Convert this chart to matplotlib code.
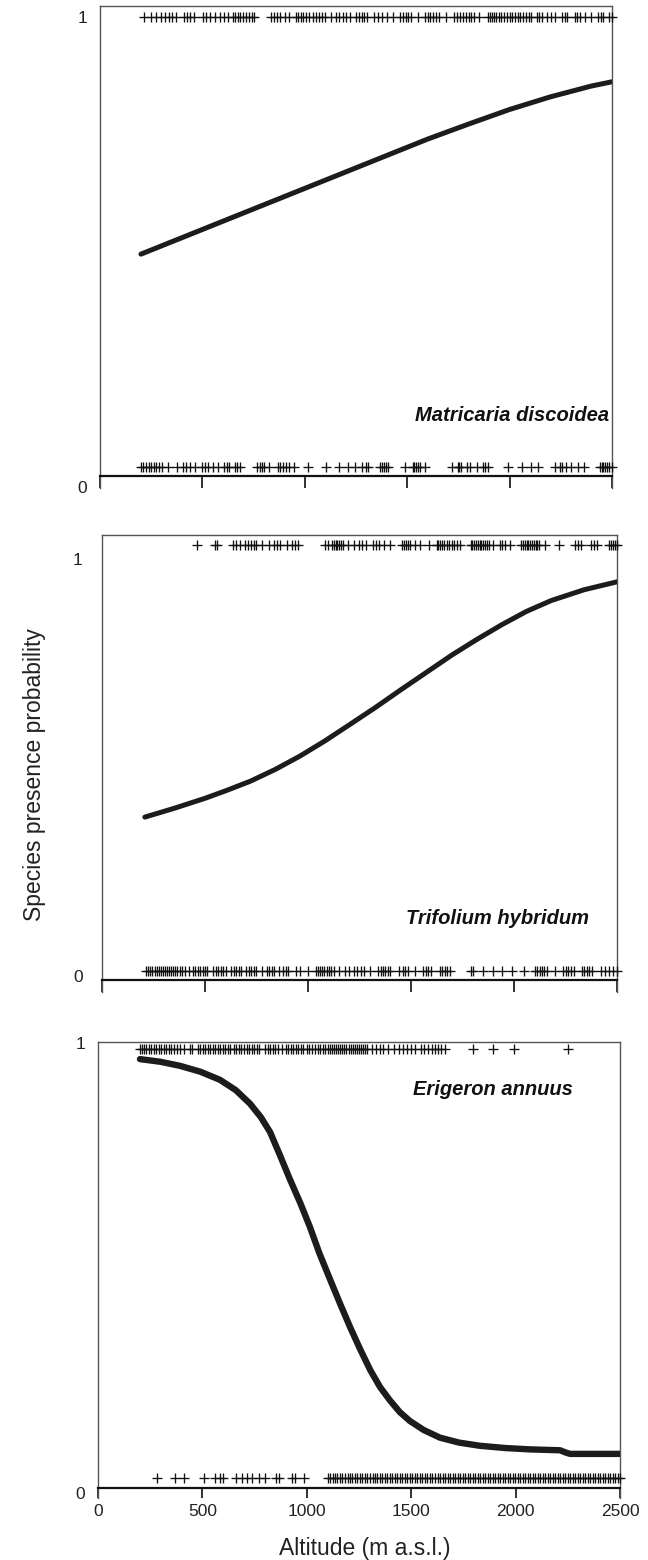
import matplotlib
matplotlib.use("Agg")
import matplotlib.pyplot as plt

plt.rcParams['font.family'] = ['Liberation Sans', 'DejaVu Sans']

# ---------------- data ----------------
x_ticks = [0, 500, 1000, 1500, 2000, 2500]
x_tick_labels = ["0", "500", "1000", "1500", "2000", "2500"]
y_ticks = [0, 1]
y_tick_labels = ["0", "1"]

species = ["Matricaria discoidea", "Trifolium hybridum", "Erigeron annuus"]

# fitted presence probability curves
M_alt = [200, 400, 600, 800, 1000, 1200, 1400, 1600, 1800, 2000, 2200, 2400, 2500]
M_prob = [0.495, 0.53, 0.565, 0.60, 0.635, 0.67, 0.705, 0.74, 0.772, 0.803, 0.830, 0.853, 0.862]

T_alt = [208, 350, 500, 600, 720, 840, 960, 1080, 1200, 1325, 1450, 1575, 1700, 1820, 1940, 2060, 2180,
         2340, 2500]
T_prob = [0.381, 0.402, 0.426, 0.444, 0.467, 0.495, 0.527, 0.563, 0.602, 0.643, 0.686, 0.728, 0.770, 0.807,
          0.842, 0.874, 0.900, 0.926, 0.945]

E_alt = [201, 300, 393, 490, 584, 660, 728, 780, 824, 870, 920, 970, 1015, 1060, 1111, 1160, 1207, 1255,
         1303, 1350, 1398, 1445, 1494, 1560, 1638, 1730, 1829, 1950, 2069, 2213, 2240, 2261, 2500]
E_prob = [0.964, 0.958, 0.949, 0.936, 0.918, 0.895, 0.865, 0.835, 0.802, 0.752, 0.696, 0.643, 0.591, 0.533,
          0.475, 0.420, 0.369, 0.320, 0.274, 0.236, 0.206, 0.180, 0.160, 0.140, 0.123, 0.112, 0.105, 0.100,
          0.097, 0.095, 0.090, 0.087, 0.087]

# observed presences / absences (altitude of each record)
M_pres = [215, 250, 275, 300, 318, 335, 352, 372, 410, 425, 440, 458, 505, 520, 535, 560, 585, 605, 625, 648,
          660, 672, 685, 698, 712, 726, 740, 752, 835, 848, 862, 880, 903, 922, 955, 968, 980, 993, 1006, 1020,
          1040, 1055, 1070, 1085, 1100, 1130, 1150, 1168, 1185, 1200, 1220, 1252, 1265, 1278, 1290, 1305, 1340,
          1358, 1375, 1400, 1430, 1465, 1478, 1492, 1505, 1520, 1555, 1588, 1600, 1612, 1625, 1640, 1655, 1690,
          1728, 1745, 1757, 1772, 1785, 1800, 1812, 1825, 1850, 1895, 1905, 1915, 1925, 1935, 1948, 1960, 1972,
          1985, 2000, 2012, 2025, 2040, 2053, 2065, 2080, 2095, 2106, 2132, 2145, 2160, 2185, 2200, 2220, 2255,
          2270, 2282, 2318, 2330, 2343, 2370, 2396, 2432, 2445, 2458, 2484, 2500]
M_abs = [200, 212, 225, 238, 250, 262, 275, 290, 305, 332, 378, 403, 420, 438, 464, 498, 512, 526, 552, 578,
         605, 618, 631, 657, 670, 684, 765, 780, 790, 800, 825, 868, 880, 894, 907, 921, 947, 1017, 1105, 1166,
         1210, 1245, 1281, 1300, 1310, 1368, 1377, 1386, 1395, 1404, 1491, 1526, 1535, 1544, 1552, 1561, 1588,
         1720, 1746, 1755, 1764, 1790, 1807, 1843, 1869, 1878, 1895, 1992, 2062, 2106, 2141, 2220, 2247, 2256,
         2273, 2299, 2334, 2361, 2440, 2450, 2458, 2466, 2475, 2483, 2500]

T_pres = [460, 548, 558, 635, 650, 670, 696, 710, 722, 736, 749, 775, 810, 836, 850, 862, 897, 924, 937, 950,
          1081, 1099, 1116, 1125, 1134, 1143, 1151, 1160, 1169, 1195, 1221, 1247, 1260, 1282, 1317, 1330, 1344,
          1370, 1396, 1458, 1467, 1475, 1484, 1493, 1519, 1545, 1589, 1624, 1633, 1641, 1650, 1662, 1673, 1685,
          1697, 1711, 1724, 1737, 1790, 1798, 1807, 1816, 1825, 1834, 1842, 1851, 1860, 1869, 1877, 1900, 1930,
          1940, 1956, 1982, 2035, 2043, 2052, 2061, 2070, 2079, 2087, 2096, 2105, 2114, 2122, 2149, 2219, 2297,
          2310, 2324, 2376, 2389, 2402, 2460, 2472, 2481, 2490, 2499]
T_abs = [215, 225, 235, 245, 255, 265, 275, 285, 295, 305, 315, 325, 335, 345, 355, 365, 378, 390, 405, 420,
         440, 452, 464, 476, 488, 500, 512, 540, 552, 564, 576, 588, 600, 625, 640, 652, 664, 676, 700, 712,
         724, 736, 748, 775, 800, 812, 824, 836, 860, 880, 892, 904, 940, 960, 1000, 1040, 1050, 1060, 1070,
         1080, 1090, 1100, 1112, 1125, 1150, 1180, 1200, 1225, 1240, 1255, 1270, 1300, 1340, 1352, 1364, 1376,
         1388, 1400, 1440, 1460, 1472, 1484, 1520, 1560, 1572, 1584, 1596, 1640, 1652, 1664, 1676, 1690, 1790,
         1800, 1850, 1900, 1940, 1990, 2050, 2100, 2112, 2124, 2136, 2148, 2160, 2200, 2240, 2252, 2264, 2276,
         2290, 2330, 2342, 2354, 2366, 2380, 2420, 2440, 2460, 2480, 2500]

E_pres = [200, 210, 220, 232, 244, 256, 268, 280, 292, 304, 316, 328, 340, 352, 362, 378, 392, 410, 440, 452,
          478, 490, 502, 514, 526, 538, 550, 562, 574, 586, 598, 610, 622, 634, 650, 662, 674, 686, 698, 712,
          724, 736, 748, 760, 772, 800, 812, 824, 836, 848, 860, 880, 900, 912, 924, 936, 948, 960, 972, 984,
          1000, 1012, 1024, 1040, 1052, 1064, 1076, 1088, 1100, 1110, 1120, 1130, 1140, 1150, 1160, 1170, 1180,
          1190, 1200, 1210, 1220, 1230, 1240, 1250, 1260, 1270, 1280, 1290, 1310, 1330, 1350, 1365, 1390, 1420,
          1440, 1462, 1480, 1500, 1520, 1545, 1560, 1580, 1600, 1615, 1630, 1645, 1660, 1796, 1891, 1994, 2252]
E_abs = [283, 369, 412, 507, 558, 584, 601, 662, 688, 713, 739, 773, 799, 851, 868, 928, 945, 988,
         1100, 1112, 1124, 1135, 1146, 1158, 1170, 1182, 1195, 1206, 1218, 1230, 1242, 1255, 1266, 1278, 1290,
         1302, 1315, 1326, 1338, 1350, 1362, 1374, 1386, 1398, 1410, 1422, 1434, 1446, 1458, 1470, 1482, 1494,
         1506, 1518, 1530, 1542, 1554, 1566, 1578, 1590, 1602, 1614, 1626, 1638, 1650, 1662, 1674, 1686, 1698,
         1710, 1722, 1734, 1746, 1758, 1770, 1782, 1794, 1806, 1818, 1830, 1842, 1854, 1866, 1878, 1890, 1902,
         1914, 1926, 1938, 1950, 1962, 1974, 1986, 1998, 2010, 2022, 2034, 2046, 2058, 2070, 2082, 2094, 2106,
         2118, 2130, 2142, 2154, 2166, 2178, 2190, 2202, 2214, 2226, 2238, 2250, 2262, 2274, 2286, 2298, 2310,
         2322, 2334, 2346, 2358, 2370, 2382, 2394, 2406, 2418, 2430, 2442, 2454, 2466, 2478, 2490, 2500]

# ---------------- layout ----------------
W, H = 648, 1560
fig = plt.figure(figsize=(W / 100, H / 100), dpi=100)


def box(l, r, t, b):
    return [l / W, 1 - b / H, (r - l) / W, (b - t) / H]


panels = [
    dict(box=box(100, 612, 5.7, 488), ylim=(-0.003, 1.024), spine_y=0.0224, pad=9,
         alt=M_alt, prob=M_prob, pres=M_pres, absn=M_abs, y_pres=1.0, y_abs=0.042,
         name=species[0], name_xy=(2485, 0.152), lw=3.6, labels=False, ticklen=12),
    dict(box=box(102, 617, 534.7, 991.7), ylim=(-0.0376, 1.058), spine_y=-0.0096, pad=14,
         alt=T_alt, prob=T_prob, pres=T_pres, absn=T_abs, y_pres=1.034, y_abs=0.012,
         name=species[1], name_xy=(2362, 0.139), lw=3.6, labels=False, ticklen=12),
    dict(box=box(98, 620, 1042, 1498), ylim=(-0.011, 1.002), spine_y=0.011, pad=9,
         alt=E_alt, prob=E_prob, pres=E_pres, absn=E_abs, y_pres=0.987, y_abs=0.034,
         name=species[2], name_xy=(2275, 0.897), lw=4.6, labels=True, ticklen=10),
]

for p in panels:
    ax = fig.add_axes(p['box'])
    ax.set_xlim(0, 2500)
    ax.set_ylim(*p['ylim'])
    for s in ['left', 'right', 'top']:
        ax.spines[s].set_color('#555555')
        ax.spines[s].set_linewidth(1.0)
    ax.spines['bottom'].set_position(('data', p['spine_y']))
    ax.spines['bottom'].set_color('#111111')
    ax.spines['bottom'].set_linewidth(1.6)

    # rugs
    ax.plot(p['pres'], [p['y_pres']] * len(p['pres']), linestyle='none', marker='+',
            markersize=7.5, markeredgewidth=0.95, color='#111111', clip_on=False, zorder=3)
    ax.plot(p['absn'], [p['y_abs']] * len(p['absn']), linestyle='none', marker='+',
            markersize=7.5, markeredgewidth=0.95, color='#111111', clip_on=False, zorder=3)
    # fitted curve
    ax.plot(p['alt'], p['prob'], color='#1c1c1c', linewidth=p['lw'], solid_capstyle='round',
            solid_joinstyle='round', zorder=4)

    ax.text(p['name_xy'][0], p['name_xy'][1], p['name'], ha='right', va='center',
            fontsize=14.5, fontweight='bold', fontstyle='italic', color='#111111')

    ax.set_xticks(x_ticks)
    if p['labels']:
        ax.set_xticklabels(x_tick_labels)
    else:
        ax.set_xticklabels([])
    ax.tick_params(axis='x', direction='out', length=p['ticklen'] * 0.72, width=1.3,
                   color='#222222', labelsize=12.5, pad=4, labelcolor='#222222')
    ax.set_yticks(y_ticks)
    ax.set_yticklabels(y_tick_labels)
    ax.tick_params(axis='y', length=0, labelsize=12.5, pad=p['pad'], labelcolor='#222222')

fig.text(35 / W, 1 - 775 / H, "Species presence probability", rotation=90, ha='center',
         va='center', fontsize=16.5, color='#222222')
fig.text(365 / W, 1 - 1548 / H, "Altitude (m a.s.l.)", ha='center', va='center',
         fontsize=16.5, color='#222222')

fig.savefig("out.png", dpi=100)
